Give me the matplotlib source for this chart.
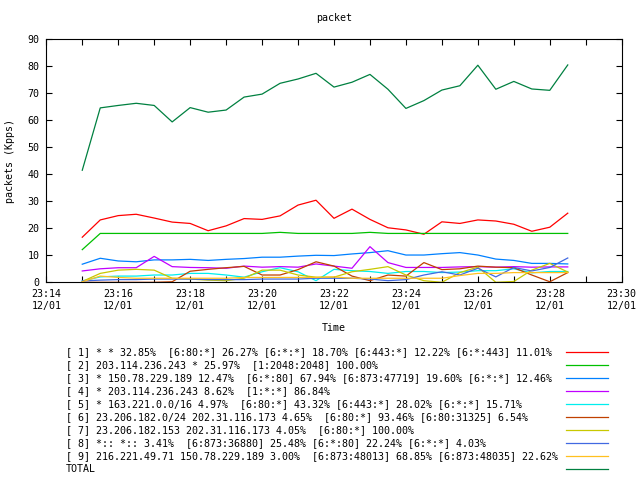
import matplotlib
matplotlib.use('Agg')
import matplotlib.pyplot as plt
import matplotlib.dates as mdates
import pandas as pd

# 30 s samples, 23:15:00 - 23:28:30
times = pd.date_range('2013-12-01 23:15:00', periods=28, freq='30s')

s1 = [16.7, 23.1, 24.7, 25.2, 23.8, 22.3, 21.8, 19.1, 20.9, 23.6, 23.3, 24.6, 28.6, 30.4,
      23.7, 27.1, 23.3, 20.2, 19.4, 17.8, 22.4, 21.8, 23.1, 22.7, 21.5, 18.9, 20.4, 25.6]
s2 = [12.1, 18.1, 18.1, 18.1, 18.1, 18.1, 18.1, 18.1, 18.1, 18.1, 18.1, 18.5, 18.1, 18.1,
      18.1, 18.1, 18.5, 18.1, 18.1, 18.1, 18.1, 18.1, 18.1, 18.1, 18.1, 18.1, 18.1, 18.1]
s3 = [6.7, 8.9, 7.9, 7.6, 8.3, 8.3, 8.5, 8.1, 8.5, 8.8, 9.3, 9.3, 9.7, 10.0,
      9.9, 10.5, 11.0, 11.7, 10.1, 10.1, 10.6, 11.0, 10.1, 8.6, 8.1, 7.0, 7.0, 6.8]
s4 = [4.2, 5.0, 5.4, 5.4, 9.6, 5.8, 5.5, 5.4, 5.2, 6.0, 5.6, 5.8, 5.6, 6.8,
      6.0, 5.2, 13.2, 7.3, 5.5, 5.5, 5.5, 5.7, 5.8, 5.6, 5.8, 5.6, 5.7, 5.7]
s5 = [0.5, 2.0, 2.3, 2.3, 2.7, 2.7, 3.3, 3.3, 2.7, 1.9, 3.9, 5.4, 3.9, 0.6,
      4.8, 4.3, 4.0, 3.3, 4.0, 4.0, 3.6, 3.8, 4.3, 4.3, 5.0, 3.5, 4.0, 4.0]
s6 = [0.0, 0.0, 0.0, 0.0, 0.0, 0.2, 4.1, 4.8, 5.4, 5.9, 2.7, 2.7, 4.7, 7.6,
      6.0, 2.3, 0.6, 2.7, 2.3, 7.3, 4.7, 5.0, 6.0, 5.6, 5.4, 2.7, 0.2, 3.6]
s7 = [0.3, 3.3, 4.5, 4.8, 4.5, 1.5, 1.2, 0.8, 0.6, 1.5, 4.5, 4.5, 2.7, 1.9,
      1.9, 3.9, 4.8, 5.8, 2.7, 0.6, 0.0, 3.6, 5.6, 0.0, 0.3, 4.5, 7.0, 3.8]
s8 = [0.5, 0.8, 1.0, 1.0, 1.2, 1.2, 1.2, 1.0, 1.0, 1.0, 1.2, 1.2, 1.2, 1.5,
      1.5, 1.5, 1.2, 0.6, 1.0, 2.7, 3.9, 2.7, 5.2, 2.0, 5.5, 4.2, 5.5, 9.0]
s9 = [0.2, 2.3, 1.8, 1.5, 1.5, 1.5, 1.5, 1.5, 1.5, 1.8, 1.8, 1.8, 1.8, 1.8,
      2.0, 1.5, 1.5, 1.5, 1.5, 1.5, 1.5, 2.5, 3.3, 3.3, 3.6, 3.6, 3.6, 3.6]
total = [41.5, 64.6, 65.5, 66.3, 65.5, 59.4, 64.7, 63.0, 63.8, 68.6, 69.7, 73.7, 75.3, 77.4,
         72.3, 74.1, 77.0, 71.5, 64.4, 67.3, 71.2, 72.8, 80.4, 71.5, 74.4, 71.6, 71.1, 80.5]

labels = [
    "[ 1] * * 32.85%  [6:80:*] 26.27% [6:*:*] 18.70% [6:443:*] 12.22% [6:*:443] 11.01%",
    "[ 2] 203.114.236.243 * 25.97%  [1:2048:2048] 100.00%",
    "[ 3] * 150.78.229.189 12.47%  [6:*:80] 67.94% [6:873:47719] 19.60% [6:*:*] 12.46%",
    "[ 4] * 203.114.236.243 8.62%  [1:*:*] 86.84%",
    "[ 5] * 163.221.0.0/16 4.97%  [6:80:*] 43.32% [6:443:*] 28.02% [6:*:*] 15.71%",
    "[ 6] 23.206.182.0/24 202.31.116.173 4.65%  [6:80:*] 93.46% [6:80:31325] 6.54%",
    "[ 7] 23.206.182.153 202.31.116.173 4.05%  [6:80:*] 100.00%",
    "[ 8] *:: *:: 3.41%  [6:873:36880] 25.48% [6:*:80] 22.24% [6:*:*] 4.03%",
    "[ 9] 216.221.49.71 150.78.229.189 3.00%  [6:873:48013] 68.85% [6:873:48035] 22.62%",
    "TOTAL",
]
colors = ['#ff0000', '#00c000', '#0080ff', '#c000ff', '#00eeee',
          '#c04000', '#c8c800', '#4169e1', '#ffc020', '#008040']
series = [s1, s2, s3, s4, s5, s6, s7, s8, s9, total]

plt.rcParams['font.family'] = ['DejaVu Sans Mono']
fs = 7.2

fig = plt.figure(figsize=(6.4, 4.8), dpi=100)
W, H = 640.0, 480.0
left, right, top, bottom = 46.3, 621.7, 39.3, 282.3
ax = fig.add_axes([left / W, 1 - bottom / H, (right - left) / W, (bottom - top) / H])

for vals, c in zip(series, colors):
    ax.plot(times, vals, color=c, lw=0.9)

ax.set_xlim(pd.Timestamp('2013-12-01 23:14'), pd.Timestamp('2013-12-01 23:30'))
ax.set_ylim(0, 90)
ax.set_yticks(range(0, 91, 10))
ax.xaxis.set_major_locator(mdates.MinuteLocator(byminute=range(0, 60, 2)))
ax.xaxis.set_minor_locator(mdates.MinuteLocator())
ax.xaxis.set_major_formatter(mdates.DateFormatter('%H:%M\n%m/%d'))
ax.tick_params(which='both', direction='in', top=True, right=True, labelsize=fs, width=0.8)
ax.tick_params(which='major', length=4.5)
ax.tick_params(which='minor', length=4.5)
ax.tick_params(axis='x', pad=5)
ax.tick_params(axis='y', pad=5)
for sp in ax.spines.values():
    sp.set_linewidth(0.8)

ax.set_title('packet', fontsize=fs, y=1 + (top - 18) / (bottom - top), va='center', pad=0)
ax.set_xlabel('Time', fontsize=fs, va='center')
ax.xaxis.set_label_coords(0.5, -(328 - bottom) / (bottom - top))
ax.set_ylabel('packets (Kpps)', fontsize=fs, va='center', ha='center')
ax.yaxis.set_label_coords((10 - left) / (right - left), 0.5)

# key below the plot, gnuplot style: text on the left, sample on the right
lax = fig.add_axes([0, 0, 1, 1])
lax.set_xlim(0, W)
lax.set_ylim(H, 0)
lax.axis('off')
for i, (lab, c) in enumerate(zip(labels, colors)):
    y = 352 + 13 * i
    lax.text(66, y, lab, fontsize=fs, va='center', ha='left')
    lax.plot([566, 608], [y, y], color=c, lw=0.9)

fig.savefig('out.png', dpi=100)
